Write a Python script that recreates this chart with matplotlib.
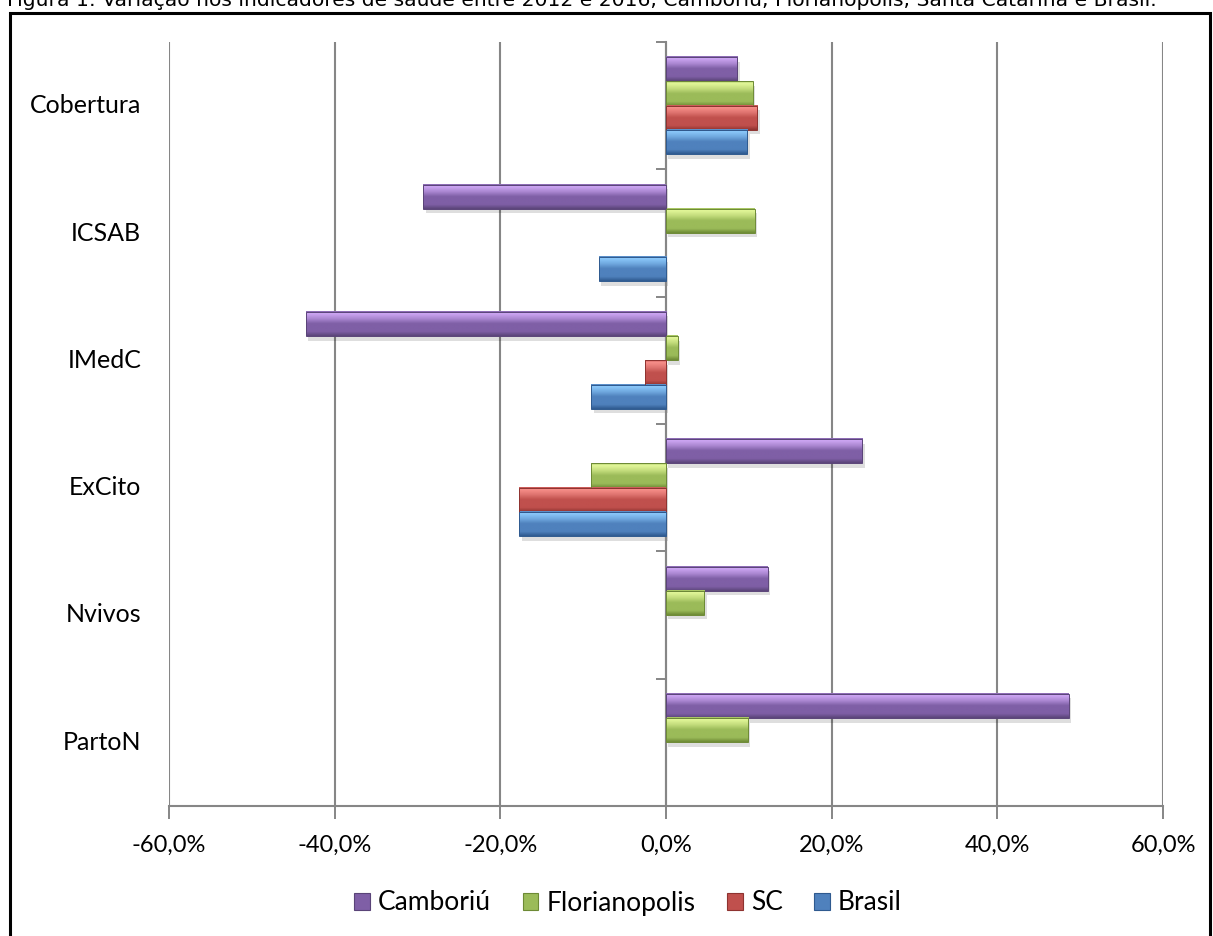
import numpy as np
import matplotlib.pyplot as plt
from matplotlib.colors import to_rgb
from matplotlib.patches import Patch, Rectangle
from matplotlib.ticker import FuncFormatter, FixedLocator
from matplotlib.transforms import blended_transform_factory

# variação percentual 2012 -> 2016 por indicador
indicadores = ['Cobertura', 'ICSAB', 'IMedC', 'ExCito', 'Nvivos', 'PartoN']
series = ['Camboriú', 'Florianopolis', 'SC', 'Brasil']
camboriu = [8.6, -29.3, -43.5, 23.7, 12.3, 48.6]
florianopolis = [10.5, 10.7, 1.4, -9.0, 4.6, 9.9]
sc = [11.0, 0.0, -2.5, -17.8, 0.0, 0.0]
brasil = [9.8, -8.1, -9.0, -17.7, 0.0, 0.0]
valores = [camboriu, florianopolis, sc, brasil]

# cores (claro, médio, escuro) estilo Excel com bisel
cores = [
    ('#cfa8f5', '#7f5fa6', '#5a4478'),
    ('#e4f89a', '#9bbb59', '#6d8a35'),
    ('#f8908b', '#c0504d', '#8e3330'),
    ('#8ccafc', '#4f81bd', '#2f5a8f'),
]

titulo = ('Figura 1: Variação nos indicadores de saúde entre 2012 e 2016, '
          'Camboriú, Florianópolis, Santa Catarina e Brasil.')

plt.rcParams['font.family'] = ['Lato', 'DejaVu Sans']

fig = plt.figure(figsize=(12.13, 9.36), dpi=100)
ax = fig.add_axes([169 / 1213, 1 - 806 / 936, 994 / 1213, 764 / 936])


def gradiente(c_claro, c_medio, c_escuro, n=80):
    pos = [0.0, 0.08, 0.3, 0.5, 0.82, 1.0]
    cols = [c_medio, c_claro, c_claro, c_medio, c_medio, c_escuro]
    cols = np.array([to_rgb(c) for c in cols])
    # mistura o claro no meio para não ficar chapado
    cols[2] = 0.55 * cols[2] + 0.45 * cols[3]
    t = np.linspace(0, 1, n)
    img = np.stack([np.interp(t, pos, cols[:, k]) for k in range(3)], axis=-1)
    return img[:, None, :]


n_ser = len(series)
grupo = 0.76
alt = grupo / n_ser
for s, (vals, (cl, cm, ce)) in enumerate(zip(valores, cores)):
    img = gradiente(cl, cm, ce)
    for i, v in enumerate(vals):
        if v == 0:
            continue
        y_top = i - grupo / 2 + s * alt
        y_bot = y_top + alt
        x0, x1 = min(0, v), max(0, v)
        # sombra leve
        ax.add_patch(Rectangle((x0 + 0.3, y_top + 0.035), x1 - x0, alt,
                               facecolor='#000000', alpha=0.13, lw=0, zorder=2))
        ax.imshow(img, extent=(x0, x1, y_bot, y_top), origin='upper',
                  aspect='auto', interpolation='bilinear', zorder=3)
        ax.add_patch(Rectangle((x0, y_top), x1 - x0, alt, facecolor='none',
                               edgecolor=ce, lw=0.7, zorder=4))

ax.set_xlim(-60, 60)
ax.set_ylim(len(indicadores) - 0.5, -0.5)

ax.set_xticks(np.arange(-60, 61, 20))
ax.xaxis.set_major_formatter(FuncFormatter(lambda x, p: f'{x:.1f}%'.replace('.', ',')))
ax.tick_params(axis='x', length=9, width=1.4, color='#868686', labelsize=17,
               pad=12, labelcolor='#000000')
ax.grid(axis='x', color='#868686', lw=1.5, zorder=1)

# eixo vertical no zero, com marcas entre categorias
ax.spines['left'].set_position(('data', 0))
ax.spines['left'].set_color('#868686')
ax.spines['left'].set_linewidth(1.5)
ax.yaxis.set_major_locator(FixedLocator(np.arange(-0.5, len(indicadores), 1.0)))
ax.yaxis.set_ticklabels([])
ax.tick_params(axis='y', length=7, width=1.4, color='#868686')
ax.spines['bottom'].set_color('#868686')
ax.spines['bottom'].set_linewidth(1.5)
for lado in ('top', 'right'):
    ax.spines[lado].set_visible(False)
ax.set_axisbelow(True)

trans = blended_transform_factory(ax.transAxes, ax.transData)
for i, nome in enumerate(indicadores):
    ax.text(-0.028, i, nome, transform=trans, ha='right', va='center', fontsize=18)

handles = [Patch(facecolor=cm, edgecolor=ce, lw=0.8) for (cl, cm, ce) in cores]
fig.legend(handles, series, loc='center', bbox_to_anchor=(628 / 1213, 1 - 903 / 936),
           ncol=4, frameon=False, fontsize=19, handlelength=0.6, handleheight=0.6,
           handletextpad=0.3, columnspacing=1.2)

# moldura
fig.add_artist(Rectangle((10 / 1213, -0.01), 1200 / 1213, 1 - 13 / 936 + 0.01,
                         transform=fig.transFigure, facecolor='none',
                         edgecolor='#000000', lw=2.2))
fig.text(7 / 1213, 1 - 6 / 936, titulo, fontsize=14.6, family='DejaVu Sans',
         ha='left', va='baseline')

fig.savefig('out.png', dpi=100)
